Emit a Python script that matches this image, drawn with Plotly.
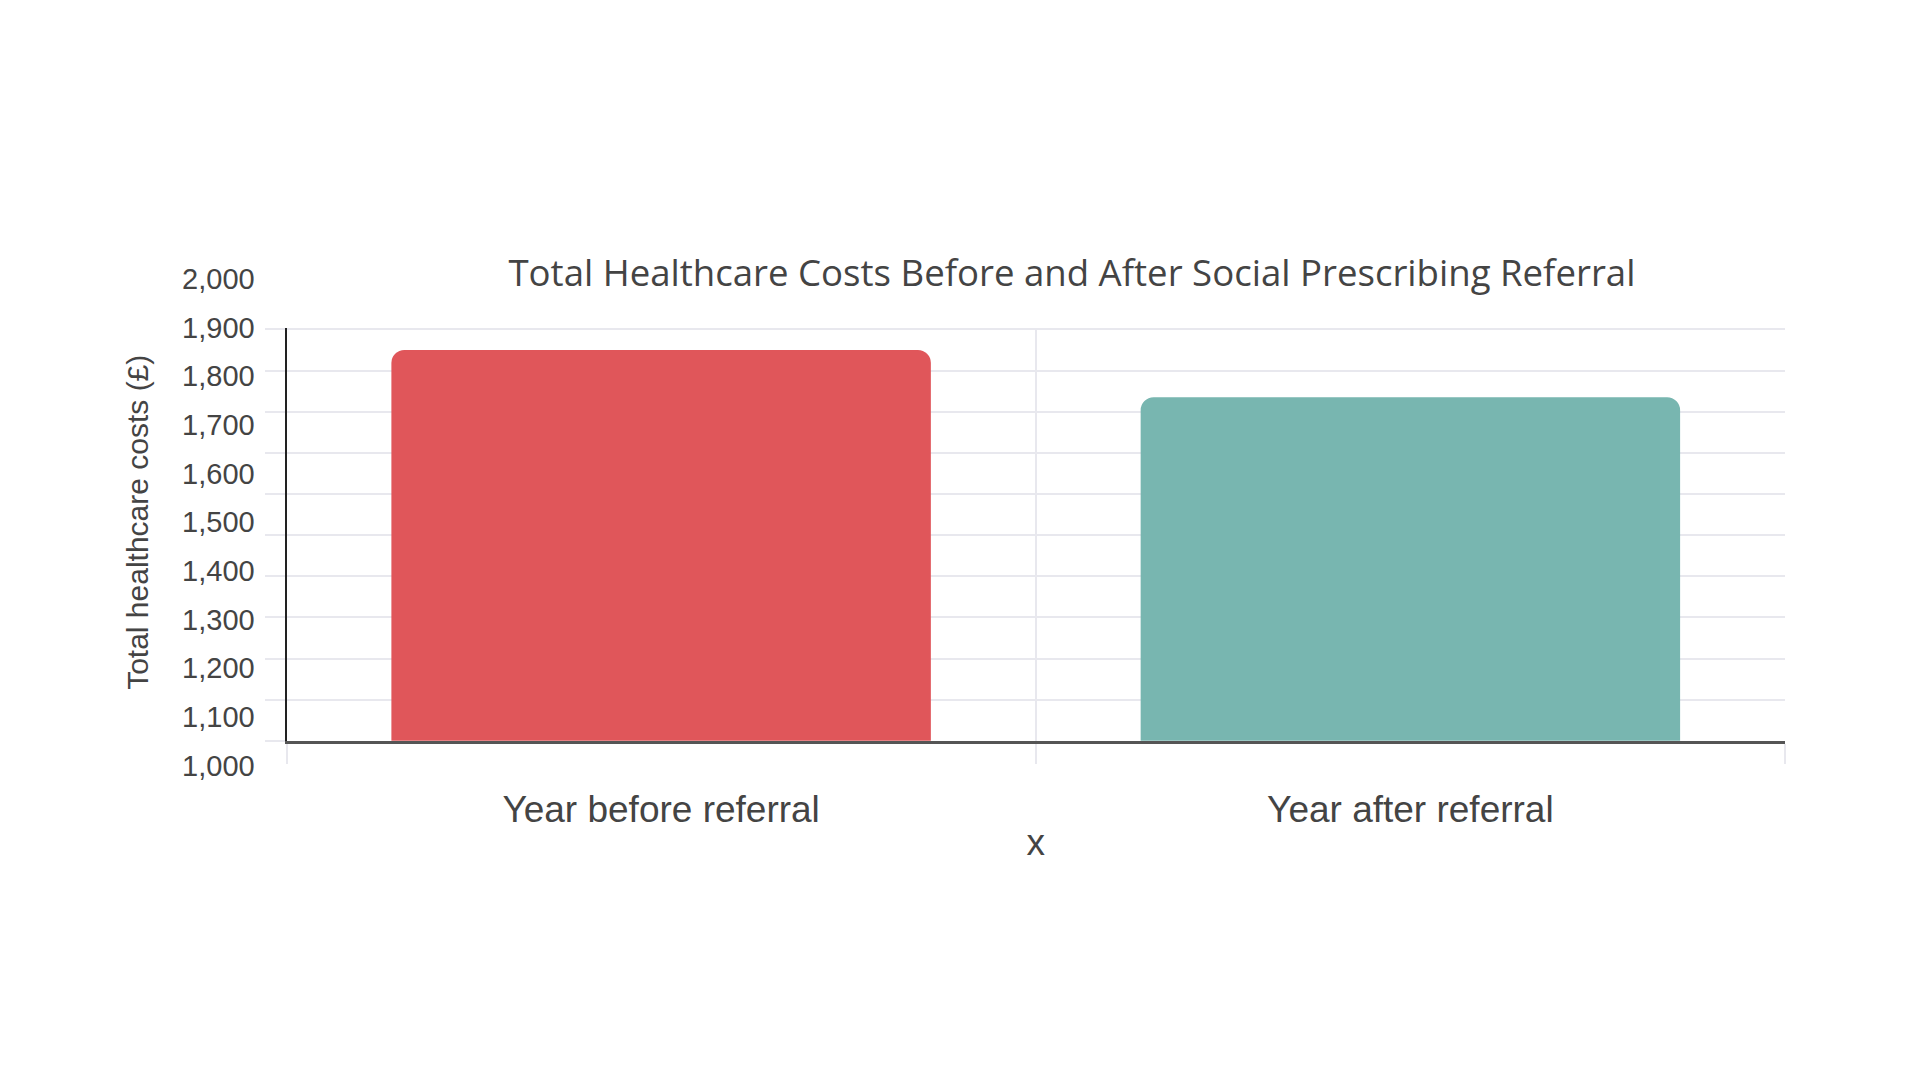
import plotly.graph_objects as go

categories = ["Year before referral", "Year after referral"]
costs = [1850, 1735]
bar_colors = ["#E0565A", "#78B6B0"]
label_ticks = [1000, 1100, 1200, 1300, 1400, 1500, 1600, 1700, 1800, 1900, 2000]
label_text = ["1,000", "1,100", "1,200", "1,300", "1,400", "1,500", "1,600", "1,700", "1,800", "1,900", "2,000"]

W, H = 1920, 1080
def px_y(p):
    return (H - p) / H

X0, X1 = 286.5 / W, 1785 / W
# primary (gridline) axis: 900 at y=747px, 1900 at y=323px -> extend slightly so top gridline is drawn
PX_PER_UNIT = (747 - 323) / 1000
Y_TOP = 1904
Y_TOP_PX = 747 - (Y_TOP - 900) * PX_PER_UNIT

fig = go.Figure()
fig.add_trace(go.Bar(
    x=categories, y=costs,
    marker=dict(color=bar_colors, cornerradius=13, line=dict(width=0)),
    width=0.72, showlegend=False,
))
# invisible trace carrying the label axis
fig.add_trace(go.Scatter(
    x=categories, y=costs, xaxis="x2", yaxis="y2", mode="markers",
    marker=dict(opacity=0), showlegend=False, hoverinfo="skip",
))

fig.update_layout(
    width=W, height=H,
    margin=dict(l=0, r=0, t=0, b=0),
    paper_bgcolor="white", plot_bgcolor="rgba(0,0,0,0)",
    title=dict(
        text="Total Healthcare Costs Before and After Social Prescribing Referral",
        x=0.5583, y=px_y(265), xanchor="center", yanchor="middle",
        xref="paper", yref="paper",
        font=dict(family="Open Sans", size=36.6, color="#444444"),
    ),
    xaxis=dict(
        domain=[X0, X1],
        anchor="y",
        tickson="boundaries",
        showgrid=True, gridcolor="#E8E8EE", gridwidth=1.5,
        ticks="outside", ticklen=20, tickcolor="#E8E8EE", tickwidth=1.5,
        showline=True, linecolor="#555555", linewidth=3,
        tickfont=dict(family="Arial", size=37, color="#444444"),
        ticklabelstandoff=34,
        title=dict(text="x", font=dict(family="Arial", size=37, color="#444444"), standoff=0),
    ),
    xaxis2=dict(domain=[X0, X1], anchor="y2", visible=False, showgrid=False),
    yaxis=dict(
        domain=[px_y(747), px_y(Y_TOP_PX)],
        range=[900, Y_TOP], dtick=100, tick0=900,
        showgrid=True, gridcolor="#E8E8EE", gridwidth=1.5,
        ticks="outside", ticklen=20, tickcolor="#E8E8EE", tickwidth=1.5,
        showticklabels=False,
        showline=True, linecolor="#222222", linewidth=1.5,
        zeroline=False,
    ),
    yaxis2=dict(
        domain=[px_y(772.5), px_y(271)],
        range=[1000, 2000],
        anchor="free", position=X0, side="left",
        tickmode="array", tickvals=label_ticks, ticktext=label_text,
        showgrid=False, zeroline=False, showline=False,
        ticks="outside", ticklen=26, tickcolor="rgba(0,0,0,0)",
        tickfont=dict(family="Arial", size=29, color="#444444"),
        title=dict(text="Total healthcare costs (£)",
                   font=dict(family="Arial", size=30, color="#444444"), standoff=23),
    ),
)

fig.write_html(
    "out.html",
    config={"displayModeBar": False},
    post_script="document.body.style.margin='0';document.body.style.overflow='hidden';",
)
